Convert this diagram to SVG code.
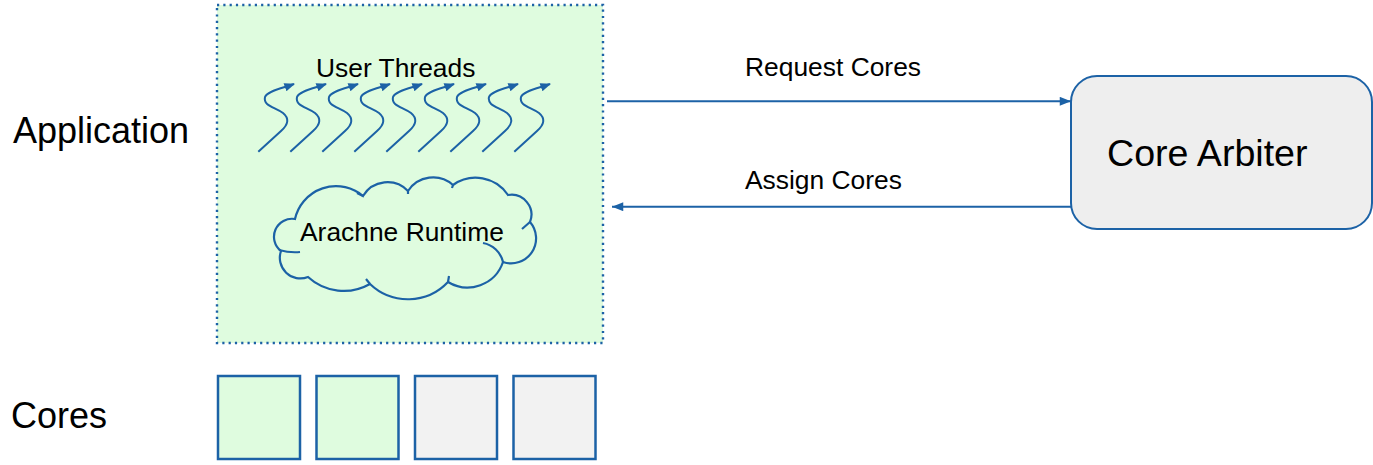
<svg xmlns="http://www.w3.org/2000/svg" width="1373" height="465" viewBox="0 0 1373 465">
<style>
text{font-family:"Liberation Sans",Arial,sans-serif;fill:#000}
.big{font-size:36px}
.sm{font-size:26.4px}
.blue{stroke:#1c62a6;fill:none}
.core{stroke:#1c62a6;stroke-width:2.5}
</style>
<defs>
<marker id="ah" viewBox="0 0 10 8" refX="10" refY="4" markerWidth="12" markerHeight="9" markerUnits="userSpaceOnUse" orient="auto">
<path d="M0,0 L10,4 L0,8 Z" fill="#1c62a6"/>
</marker>
<marker id="th" viewBox="0 0 10 8" refX="9" refY="4" markerWidth="11" markerHeight="8.5" markerUnits="userSpaceOnUse" orient="auto">
<path d="M0,0 L10,4 L0,8 Z" fill="#1c62a6"/>
</marker>
<path id="thread" d="M258.3,151.7 L281,131 C289,124 289,118 283,113 C275,107 263,106 265,97 C267,91 283,88 294,84" stroke="#1c62a6" stroke-width="2" fill="none" marker-end="url(#th)"/>
</defs>
<g id="labels">
<text class="big" x="13" y="143">Application</text>
<text class="big" x="11" y="428">Cores</text>
</g>
<g id="application">
<rect x="217" y="5" width="386" height="338" fill="#dffcdf" stroke="#1c62a6" stroke-width="2.4" stroke-dasharray="2.2 4.1"/>
</g>
<g id="user-threads">
<text class="sm" x="316" y="77">User Threads</text>
<use href="#thread"/>
<use href="#thread" x="32"/>
<use href="#thread" x="64"/>
<use href="#thread" x="96"/>
<use href="#thread" x="128"/>
<use href="#thread" x="160"/>
<use href="#thread" x="192"/>
<use href="#thread" x="224"/>
<use href="#thread" x="256"/>
</g>
<g id="arachne-runtime">
<path class="blue" stroke-width="2.2" fill="#dffcdf" d="M281,251 A18,18 0 0 1 295,219 A42,42 0 0 1 363,196 A28.5,28.5 0 0 1 408,191 A30,30 0 0 1 453,185 A39,39 0 0 1 508,195 A20,20 0 0 1 530,222 A25,25 0 0 1 503,262 A37.5,37.5 0 0 1 448,282 A55,55 0 0 1 370,284 A53,53 0 0 1 308,277 A20.6,20.6 0 0 1 281,251 Z"/>
<path class="blue" stroke-width="2.2" d="M279,250 Q290,253 300,252 M483,243 A25,25 0 0 1 503,262 M448,282 L449,276 M370,284 L366,279 M522,229 L530,222 M363,196 L357,193 M408,191 L408,194 M453,185 L452,188"/>
<text class="sm" x="300" y="241">Arachne Runtime</text>
</g>
<g id="core-arbiter">
<rect x="1071" y="76" width="301" height="153" rx="26" fill="#eeeeee" stroke="#1c62a6" stroke-width="2"/>
<text x="1107" y="166" style="font-size:37.6px">Core Arbiter</text>
</g>
<g id="cores">
<rect class="core" x="218" y="376" width="82" height="83" fill="#dffcdf"/>
<rect class="core" x="316.5" y="376" width="82" height="83" fill="#dffcdf"/>
<rect class="core" x="415" y="376" width="82" height="83" fill="#f2f2f2"/>
<rect class="core" x="513.5" y="376" width="82" height="83" fill="#f2f2f2"/>
</g>
<g id="connectors">
<line class="blue" stroke-width="2" x1="607" y1="101.3" x2="1071" y2="101.3" marker-end="url(#ah)"/>
<line class="blue" stroke-width="2" x1="1071" y1="206.7" x2="612" y2="206.7" marker-end="url(#ah)"/>
<text class="sm" x="745" y="76">Request Cores</text>
<text class="sm" x="745" y="189">Assign Cores</text>
</g>
</svg>
